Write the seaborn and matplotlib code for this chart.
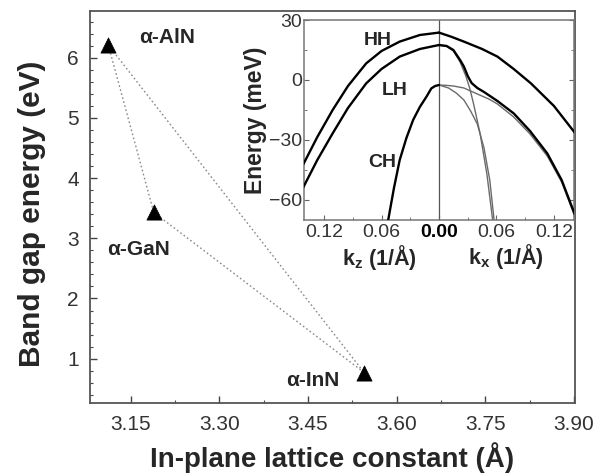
import numpy as np
import pandas as pd
import seaborn as sns
import matplotlib
matplotlib.use("Agg")
import matplotlib.pyplot as plt
from matplotlib.ticker import MultipleLocator, FixedLocator, FixedFormatter

# --- data: band gap vs in-plane lattice constant ---
names = ["α-AlN", "α-GaN", "α-InN"]
a_lat = [3.112, 3.189, 3.545]
e_gap = [6.21, 3.43, 0.77]
# dotted tie lines between the binaries (index pairs)
tie_pairs = [(0, 1), (1, 2), (0, 2)]

# --- inset: valence band dispersion (meV), kz side given as |kz| ---
kz_hh = [0.0, 0.02, 0.041, 0.06, 0.076, 0.095, 0.111, 0.127, 0.142]
e_hh_z = [23.7, 22.5, 19.2, 14.5, 8.3, -3.0, -15.0, -28.5, -42.5]
kz_lh = [0.0, 0.02, 0.041, 0.06, 0.076, 0.095, 0.111, 0.127, 0.142]
e_lh_z = [17.5, 15.5, 11.7, 5.5, -1.7, -14.0, -26.7, -40.0, -54.0]
kz_ch = [0.0, 0.004, 0.008, 0.013, 0.02, 0.027, 0.034, 0.041, 0.047, 0.053]
e_ch_z = [-2.5, -3.0, -4.2, -8.3, -13.5, -20.0, -29.0, -40.0, -54.0, -70.0]

kx_hh = [0.0, 0.013, 0.026, 0.045, 0.061, 0.078, 0.096, 0.12, 0.142]
e_hh_x = [23.7, 21.6, 19.2, 15.5, 11.7, 5.5, -1.7, -13.0, -26.5]
# LH-like branch through the anticrossing (dark)
kx_lh = [0.0, 0.008, 0.015, 0.022, 0.026, 0.030, 0.034, 0.040, 0.047, 0.061, 0.078, 0.095, 0.113, 0.128, 0.142]
e_lh_x = [17.5, 17.0, 15.0, 10.0, 6.7, 2.0, -1.5, -4.0, -6.0, -10.5, -16.7, -25.5, -36.7, -50.0, -67.5]
# CH-like shallow branch (grey)
kx_ch = [0.0, 0.008, 0.015, 0.026, 0.040, 0.052, 0.061, 0.078, 0.095, 0.113, 0.128, 0.142]
e_ch_x = [-2.5, -2.7, -3.0, -4.0, -7.0, -9.5, -12.0, -18.5, -27.0, -38.0, -51.0, -68.5]
# steep grey branches
kx_lh2 = [0.0, 0.008, 0.015, 0.022, 0.028, 0.032, 0.036, 0.043, 0.050, 0.056]
e_lh2_x = [17.5, 16.8, 14.5, 9.0, 2.0, -4.0, -11.7, -27.0, -47.0, -70.0]
kx_ch2 = [0.0, 0.010, 0.018, 0.026, 0.033, 0.040, 0.047, 0.053, 0.0575]
e_ch2_x = [-2.5, -4.0, -6.5, -10.0, -15.5, -22.0, -34.0, -50.0, -70.0]

# --- style ---
sns.set_style("ticks")
plt.rcParams["font.family"] = ["Liberation Sans", "DejaVu Sans"]
plt.rcParams["mathtext.fontset"] = "custom"
plt.rcParams["mathtext.rm"] = "Liberation Sans"
plt.rcParams["mathtext.bf"] = "Liberation Sans:bold"
tick_col = "#333333"

fig = plt.figure(figsize=(6.15, 4.74), dpi=100)
ax = fig.add_axes([0.1463, 0.1498, 0.7887, 0.827])
ins = fig.add_axes([0.4943, 0.5359, 0.439, 0.4219])

# --- main panel ---
seg_rows = []
for n, (i, j) in enumerate(tie_pairs):
    seg_rows.append({"seg": n, "a": a_lat[i], "Eg": e_gap[i]})
    seg_rows.append({"seg": n, "a": a_lat[j], "Eg": e_gap[j]})
seg_df = pd.DataFrame(seg_rows)
sns.lineplot(data=seg_df, x="a", y="Eg", units="seg", estimator=None, sort=False,
             color="#8a8a8a", lw=1.0, ls=(0, (1.2, 1.8)), ax=ax, zorder=1)

pts = pd.DataFrame({"a": a_lat, "Eg": e_gap, "name": names})
sns.scatterplot(data=pts, x="a", y="Eg", marker="^", s=120, color="black",
                edgecolor="black", linewidth=0.5, ax=ax, zorder=3, legend=False)

lab_pos = {"α-AlN": (3.2115, 6.34), "α-GaN": (3.1625, 2.81), "α-InN": (3.4585, 0.645)}
for nm in names:
    x, y = lab_pos[nm]
    ax.text(x, y, nm, ha="center", va="center", fontsize=15, fontweight="bold")

ax.set_xlim(3.081, 3.902)
ax.set_ylim(0.264, 6.776)
ax.xaxis.set_major_locator(FixedLocator([3.15, 3.30, 3.45, 3.60, 3.75, 3.90]))
ax.xaxis.set_major_formatter(FixedFormatter(["3.15", "3.30", "3.45", "3.60", "3.75", "3.90"]))
ax.xaxis.set_minor_locator(MultipleLocator(0.075))
ax.yaxis.set_major_locator(FixedLocator([1, 2, 3, 4, 5, 6]))
ax.yaxis.set_minor_locator(MultipleLocator(0.2))
ax.tick_params(which="both", direction="in", colors="#444444", labelcolor=tick_col,
               labelsize=15, top=False, right=False)
ax.tick_params(which="major", length=5, width=1.0)
ax.tick_params(which="minor", length=2.5, width=0.8)
ax.tick_params(axis="x", pad=9)
ax.tick_params(axis="y", pad=8)
for sp in ax.spines.values():
    sp.set_color("#555555")
    sp.set_linewidth(1.3)

ax.set_xlabel("In-plane lattice constant (Å)", fontsize=20, fontweight="bold", va="center")
ax.set_ylabel("Band gap energy (eV)", fontsize=21.5, fontweight="bold", va="center")
ax.xaxis.set_label_coords(0.5, -0.140)
ax.yaxis.set_label_coords(-0.1196, 0.482)

# --- inset panel ---
rows = []
def add_band(name, ks, es, sign, kind):
    for k, e in zip(ks, es):
        rows.append({"band": name, "k": sign * k, "E": e, "kind": kind})

add_band("HHz", kz_hh, e_hh_z, -1, "dark")
add_band("LHz", kz_lh, e_lh_z, -1, "dark")
add_band("CHz", kz_ch, e_ch_z, -1, "dark")
add_band("HHx", kx_hh, e_hh_x, 1, "dark")
add_band("LHx", kx_lh, e_lh_x, 1, "dark")
add_band("CHx", kx_ch, e_ch_x, 1, "grey")
add_band("LH2x", kx_lh2, e_lh2_x, 1, "grey")
add_band("CH2x", kx_ch2, e_ch2_x, 1, "grey")
bands = pd.DataFrame(rows)

ins.axvline(0, color="#555555", lw=0.9, zorder=1)
sns.lineplot(data=bands[bands["kind"] == "grey"], x="k", y="E", units="band",
             estimator=None, sort=False, color="#6a6a6a", lw=1.0, ax=ins, zorder=2)
sns.lineplot(data=bands[bands["kind"] == "dark"], x="k", y="E", units="band",
             estimator=None, sort=False, color="black", lw=1.7, ax=ins, zorder=3)

ins.text(-0.0637, 20.0, "HH", ha="center", va="center", fontsize=14, fontweight="bold")
ins.text(-0.0459, -5.5, "LH", ha="center", va="center", fontsize=14, fontweight="bold")
ins.text(-0.0595, -41.5, "CH", ha="center", va="center", fontsize=14, fontweight="bold")

ins.set_xlim(-0.1409, 0.1409)
ins.set_ylim(-70, 30)
ins.xaxis.set_major_locator(FixedLocator([-0.12, -0.06, 0.0, 0.06, 0.12]))
ins.xaxis.set_major_formatter(FixedFormatter(["0.12", "0.06", "0.00", "0.06", "0.12"]))
ins.xaxis.set_minor_locator(MultipleLocator(0.03))
ins.yaxis.set_major_locator(FixedLocator([30, 0, -30, -60]))
ins.yaxis.set_minor_locator(MultipleLocator(15))
ins.tick_params(which="both", direction="in", colors="#666666", labelcolor=tick_col,
                labelsize=14, right=True, top=False)
ins.tick_params(which="major", length=3.5, width=0.8)
ins.tick_params(which="minor", length=2, width=0.6)
ins.tick_params(axis="x", pad=3)
ins.tick_params(axis="y", pad=1.5)
for lab in ins.get_xticklabels():
    if lab.get_text() == "0.00":
        lab.set_fontweight("bold")
        lab.set_color("black")
for sp in ins.spines.values():
    sp.set_color("#777777")
    sp.set_linewidth(1.1)

ins.set_xlabel("")
ins.set_ylabel("Energy (meV)", fontsize=16.5, fontweight="bold", va="center")
ins.yaxis.set_label_coords(-0.178, 0.5)
ins.text(0.281, -0.19, r"k$_\mathbf{z}$ (1/Å)", transform=ins.transAxes,
         ha="center", va="center", fontsize=15.5, fontweight="bold")
ins.text(0.748, -0.185, r"k$_\mathbf{x}$ (1/Å)", transform=ins.transAxes,
         ha="center", va="center", fontsize=15.5, fontweight="bold")

fig.savefig("out.png", dpi=100)
print("saved out.png")
